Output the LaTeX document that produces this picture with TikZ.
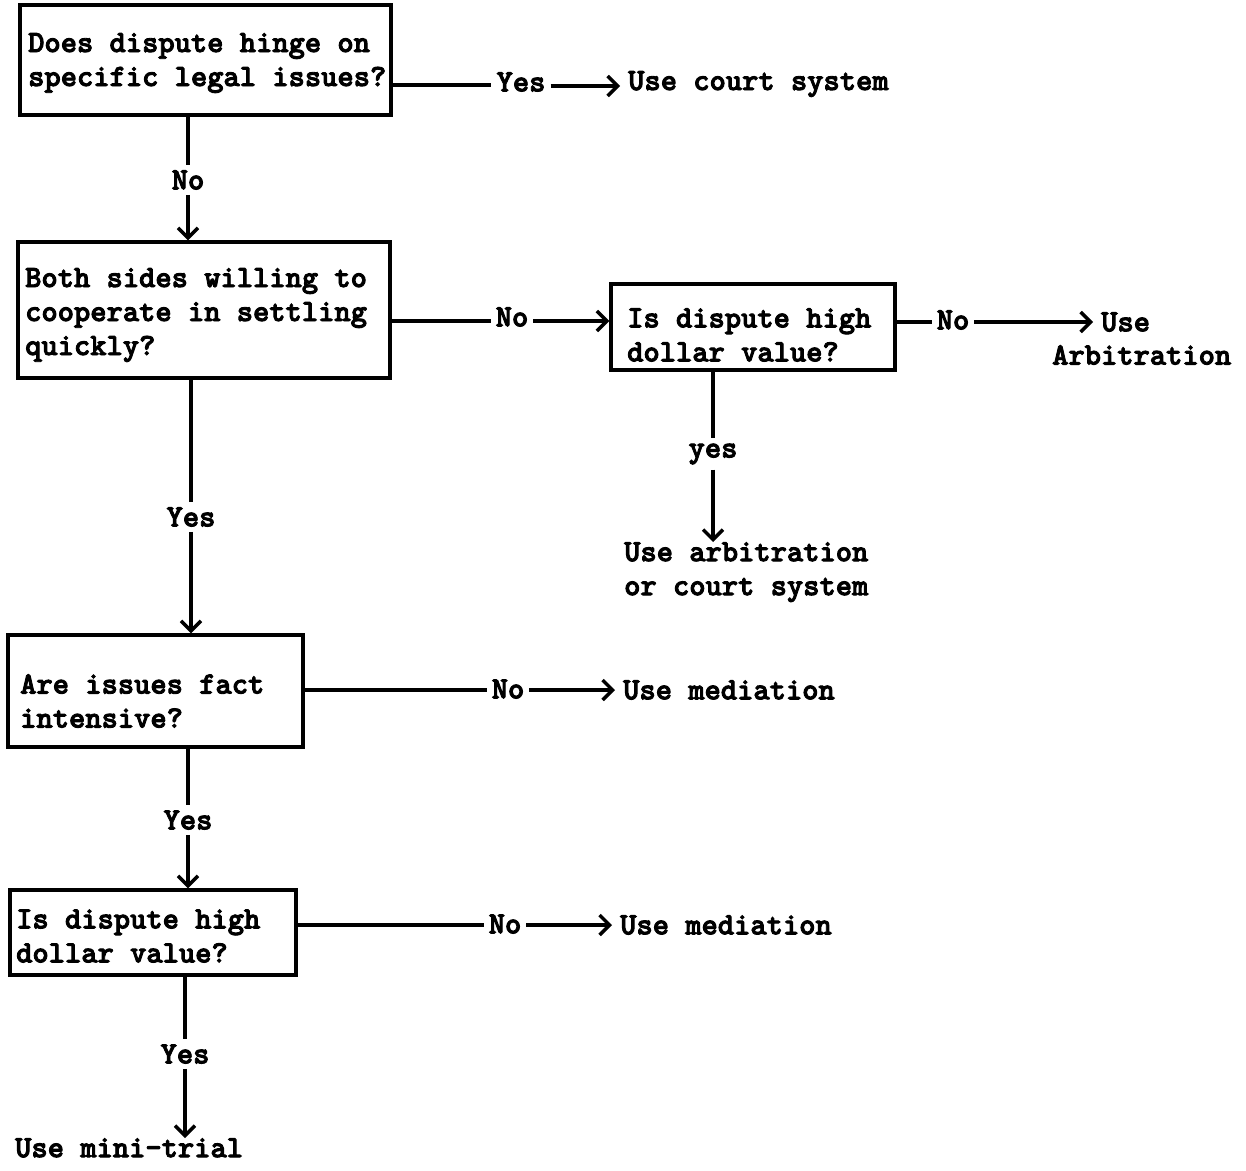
\documentclass[tikz,border=0pt]{standalone}
\usepackage{fontspec}
\usetikzlibrary{arrows.meta}
\newcommand\inkon{\special{pdf:code 2 Tr 0.9 w}}
\begin{document}
\begin{tikzpicture}[x=1pt,y=-1pt,
  every node/.style={font=\ttfamily\bfseries\fontsize{31}{34}\selectfont\inkon},
  box/.style={draw, line width=3.5pt, inner sep=0pt},
  txt/.style={align=left, inner sep=0pt},
  lbl/.style={inner sep=5pt},
  ln/.style={line width=3.4pt},
  arr/.style={line width=3.4pt, -{Straight Barb[length=10pt,width=20pt,line width=3.4pt]}},
  tarr/.style={arr, shorten >=8pt}]
\useasboundingbox (0,0) rectangle (1246,1170);
\fill[white] (0,0) rectangle (1246,1170);
% boxes
\node[box, minimum width=371pt, minimum height=110pt] (b1) at (205.5,60) {};
\node[txt, anchor=west] (t1) at (28,63) {Does dispute hinge on\\specific legal issues?};
\node[box, minimum width=372pt, minimum height=136pt] (b2) at (204,310) {};
\node[txt, anchor=west] (t2) at (25,315) {Both sides willing to\\cooperate in settling\\quickly?};
\node[box, minimum width=284pt, minimum height=86pt] (b3) at (753,327) {};
\node[txt, anchor=west] (t3) at (627,335) {Is dispute high\\dollar value?};
\node[box, minimum width=295pt, minimum height=112pt] (b4) at (155.5,691) {};
\node[txt, anchor=west] (t4) at (20,701) {Are issues fact\\intensive?};
\node[box, minimum width=286pt, minimum height=85pt] (b5) at (153,932.5) {};
\node[txt, anchor=west] (t5) at (16,936) {Is dispute high\\dollar value?};
% labels
\node[lbl] (yes1) at (521,82) {Yes};
\node[lbl] (no1) at (188,180) {No};
\node[lbl] (no2) at (512,317) {No};
\node[lbl] (no3) at (953,320) {No};
\node[lbl] (yes2) at (713,454) {yes};
\node[lbl] (yes3) at (191,517) {Yes};
\node[lbl] (no4) at (508,689) {No};
\node[lbl] (yes4) at (188,820) {Yes};
\node[lbl] (no5) at (505,924) {No};
\node[lbl] (yes5) at (185,1054) {Yes};
% outcomes
\node[txt, anchor=west] (o1) at (628,84) {Use court system};
\node[txt, anchor=west] (o2a) at (1101,322) {Use};
\node[txt, anchor=west] (o2b) at (1052,355) {Arbitration};
\node[txt, anchor=north west] (o3) at (624,542) {Use arbitration\\or court system};
\node[txt, anchor=west] (o4) at (623,690) {Use mediation};
\node[txt, anchor=west] (o5) at (620,925) {Use mediation};
\node[txt, anchor=north west] (o6) at (15,1138) {Use mini-trial};
% connectors
\coordinate (c1) at (391,85);
\draw[ln] (c1) -- (yes1.west |- c1);
\draw[tarr] (yes1.east |- 0,86) -- (o1.west |- 0,86);
\draw[ln] (no1 |- b1.south) -- (no1.north);
\draw[arr] (no1.south) -- (no1 |- b2.north);
\coordinate (c2) at (390,321);
\draw[ln] (c2) -- (no2.west |- c2);
\draw[arr] (no2.east |- c2) -- (b3.west |- c2);
\coordinate (c3) at (895,322);
\draw[ln] (c3) -- (no3.west |- c3);
\draw[tarr] (no3.east |- c3) -- (o2a.west |- c3);
\draw[ln] (yes2 |- b3.south) -- (yes2.north);
\draw[arr] (yes2.south) -- (yes2 |- o3.north);
\draw[ln] (yes3.north |- b2.south) -- (yes3.north);
\draw[arr] (yes3.south) -- (yes3 |- b4.north);
\coordinate (c4) at (303,690);
\draw[ln] (c4) -- (no4.west |- c4);
\draw[tarr] (no4.east |- c4) -- (o4.west |- c4);
\draw[ln] (yes4 |- b4.south) -- (yes4.north);
\draw[arr] (yes4.south) -- (yes4 |- b5.north);
\coordinate (c5) at (296,925);
\draw[ln] (c5) -- (no5.west |- c5);
\draw[tarr] (no5.east |- c5) -- (o5.west |- c5);
\draw[ln] (yes5 |- b5.south) -- (yes5.north);
\draw[arr] (yes5.south) -- (yes5 |- o6.north);
\end{tikzpicture}
\end{document}
